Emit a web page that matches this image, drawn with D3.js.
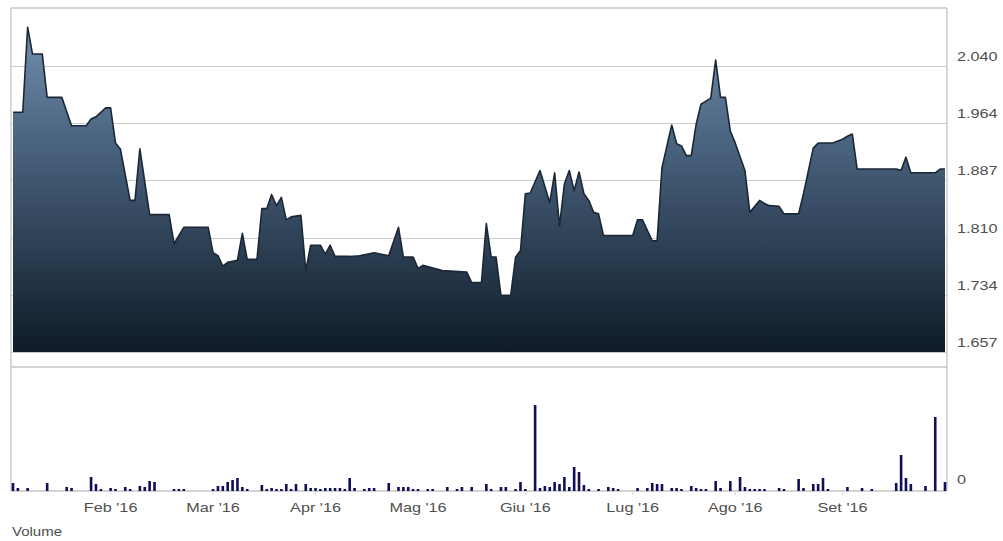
<!DOCTYPE html>
<html><head><meta charset="utf-8">
<script src="https://cdn.jsdelivr.net/npm/d3@7"></script>
<style>body{margin:0;background:#fff}svg{display:block}</style>
</head><body>
<svg id="c" width="1003" height="541"></svg>
<script>
// trading-day index (0 = 4 Jan 2016, 191 = 30 Sep 2016) and closing price at each vertex
const priceDay = [0,2,3,4,6,7,10,12,15,16,17,19,20,21,22,24,25,26,28,32,33,35,40,41,42,43,44,46,47,48,50,51,52,53,54,55,56,57,59,60,61,63,64,65,66,69,71,74,77,79,80,82,83,84,88,93,94,96,97,98,99,100,102,103,104,105,106,108,110,111,112,113,114,115,116,117,118,119,120,121,127,128,129,131,132,133,135,136,137,138,139,140,141,143,144,145,146,147,148,150,151,153,154,155,157,158,161,162,164,165,168,170,171,172,173,181,182,183,184,189,190,191];
const priceValue = [1.978,1.978,2.092,2.056,2.056,1.998,1.998,1.960,1.960,1.969,1.972,1.984,1.984,1.937,1.929,1.860,1.860,1.929,1.841,1.841,1.802,1.824,1.824,1.790,1.786,1.772,1.777,1.780,1.816,1.781,1.781,1.849,1.849,1.868,1.853,1.864,1.834,1.838,1.840,1.766,1.800,1.800,1.788,1.800,1.785,1.785,1.786,1.790,1.786,1.824,1.784,1.784,1.769,1.773,1.766,1.764,1.750,1.750,1.829,1.784,1.784,1.733,1.733,1.784,1.793,1.869,1.870,1.900,1.857,1.897,1.826,1.882,1.900,1.873,1.898,1.869,1.860,1.844,1.842,1.813,1.813,1.834,1.834,1.806,1.806,1.904,1.961,1.936,1.933,1.920,1.920,1.962,1.989,1.997,2.048,1.998,1.998,1.953,1.937,1.900,1.844,1.860,1.856,1.853,1.852,1.842,1.842,1.869,1.930,1.937,1.937,1.942,1.946,1.949,1.902,1.902,1.900,1.918,1.897,1.897,1.902,1.902];
const priceTicks = [1.657,1.734,1.810,1.887,1.964,2.040];
const priceTickLabels = ["1.657","1.734","1.810","1.887","1.964","2.040"];

const volumeDay = [0,1,3,7,11,12,16,17,18,20,21,23,24,26,27,28,29,33,34,35,41,42,43,44,45,46,47,48,51,52,53,54,55,56,57,58,60,61,62,63,64,65,66,67,68,69,70,72,73,74,77,79,80,81,82,83,85,86,89,91,92,94,97,98,100,101,103,104,105,107,108,109,110,111,112,113,114,115,116,117,118,120,122,123,124,128,130,131,132,133,135,136,137,139,140,141,142,144,145,147,149,150,151,152,153,154,157,158,161,162,164,165,166,167,171,174,176,181,182,183,184,187,189,191];
const volumeValue = [8,3,3,8,4,3,14,7,2,3,2,4,2,5,4,10,9,2,2,2,2,5,5,9,11,13,4,2,6,2,3,2,2,7,2,7,7,3,3,2,3,3,3,3,2,13,3,2,3,3,8,4,4,4,2,2,2,2,4,2,4,4,7,2,4,4,2,9,2,86,3,5,4,9,7,14,4,24,19,6,2,2,4,3,2,3,3,8,7,7,3,3,2,5,3,2,2,10,3,10,14,4,2,2,2,2,3,2,12,3,7,7,13,2,4,3,2,8,36,13,7,5,74,9];
const volumeTicks = [0];
const volumeTickLabels = ["0"];

const monthLabels = ["Feb '16","Mar '16","Apr '16","Mag '16","Giu '16","Lug '16","Ago '16","Set '16"];
const monthStartDay = [20,41,62,83,105,127,148,170];
const lastDay = 191;

const svg = d3.select("#c");
const L = 11, R = 947, T = 8, PB = 352, VT = 367, VB = 491;
const x = d3.scaleLinear().domain([0, lastDay]).range([13, 945]);
const y = d3.scaleLinear().domain([1.657, 2.1177]).range([PB, T]);
const yv = d3.scaleLinear().domain([0, 124]).range([VB, VT]);

const defs = svg.append("defs");
const g = defs.append("linearGradient").attr("id","ag")
  .attr("gradientUnits","userSpaceOnUse").attr("x1",0).attr("x2",0).attr("y1",T).attr("y2",PB);
g.append("stop").attr("offset","0%").attr("stop-color","#7b97b5");
g.append("stop").attr("offset","35%").attr("stop-color","#4e6885");
g.append("stop").attr("offset","100%").attr("stop-color","#0f1b28");

// gridlines
svg.append("g").selectAll("line").data(priceTicks).join("line")
  .attr("x1", L).attr("x2", R)
  .attr("y1", d => Math.round(y(d)) + 0.5).attr("y2", d => Math.round(y(d)) + 0.5)
  .attr("stroke", "#cacaca").attr("stroke-width", 1.2);

const pts = priceDay.map((d, i) => [d, priceValue[i]]);
svg.append("path").datum(pts)
  .attr("d", d3.area().x(d => x(d[0])).y0(PB).y1(d => y(d[1])))
  .attr("fill", "url(#ag)");
svg.append("path").datum(pts)
  .attr("d", d3.line().x(d => x(d[0])).y(d => y(d[1])))
  .attr("fill", "none").attr("stroke", "#1b2735").attr("stroke-width", 1.6)
  .attr("stroke-linejoin", "round");

// frame
const frame = svg.append("g").attr("stroke", "#c4c4c4").attr("stroke-width", 1.3).attr("fill","none");
frame.append("line").attr("x1", L).attr("x2", R).attr("y1", T).attr("y2", T);
frame.append("line").attr("x1", L).attr("x2", L).attr("y1", T).attr("y2", VB);
frame.append("line").attr("x1", R).attr("x2", R).attr("y1", T).attr("y2", VB);
frame.append("line").attr("x1", L).attr("x2", R).attr("y1", VT).attr("y2", VT);
frame.append("line").attr("x1", L).attr("x2", R).attr("y1", VB).attr("y2", VB);

// month ticks
svg.append("g").selectAll("line").data(monthStartDay).join("line")
  .attr("x1", d => x(d)).attr("x2", d => x(d)).attr("y1", VB).attr("y2", VB + 4)
  .attr("stroke", "#d8d8d8");

// volume bars
const vols = volumeDay.map((d, i) => [d, volumeValue[i]]);
svg.append("g").selectAll("rect").data(vols).join("rect")
  .attr("x", d => x(d[0]) - 1.3).attr("width", 2.6)
  .attr("y", d => yv(d[1])).attr("height", d => VB - yv(d[1]))
  .attr("fill", "#10105a");

function label(xp, yp, txt, anchor, size) {
  svg.append("text")
    .attr("transform", `translate(${xp},${yp}) scale(1.25,1)`)
    .attr("text-anchor", anchor)
    .attr("font-family", "'Liberation Sans', Arial, sans-serif")
    .attr("font-size", size).attr("fill", "#505050")
    .text(txt);
}
priceTicks.forEach((t, i) => label(957, y(t) - 5, priceTickLabels[i], "start", 13));
volumeTicks.forEach((t, i) => label(957, yv(t) - 7, volumeTickLabels[i], "start", 13));
monthStartDay.forEach((d, i) => label(x(d), 512, monthLabels[i], "middle", 13));
label(12, 536, "Volume", "start", 12);
</script>
</body></html>
